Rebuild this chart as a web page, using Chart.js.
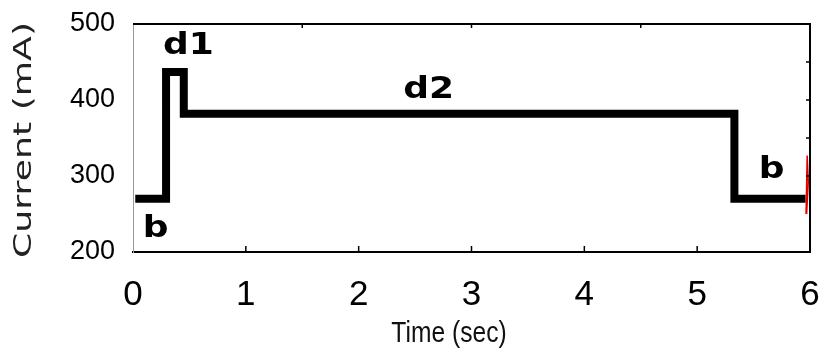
<!DOCTYPE html>
<html>
<head>
<meta charset="utf-8">
<script src="https://cdn.jsdelivr.net/npm/chart.js@4/dist/chart.umd.min.js"></script>
<style>
  html, body { margin: 0; padding: 0; background: #fff; }
  #wrap { width: 819px; height: 352px; }
</style>
</head>
<body>
<div id="wrap"><canvas id="chart" width="819" height="352"></canvas></div>
<script>
// current trace (step shape)
const timeSec = [0.02, 0.293, 0.293, 0.45, 0.45, 5.33, 5.33, 5.96];
const currentMA = [270, 270, 437, 437, 382, 382, 270, 270];

// small red mark at the right edge
const markTime = [5.965, 5.975, 5.985, 5.97];
const markCurrent = [250, 327, 292, 250];

// axis ticks
const xTicks = [0, 1, 2, 3, 4, 5, 6];
const yTicks = [200, 300, 400, 500];
const topTicks = [1.5, 3, 4.5];
const rightTicks = [300, 350, 400, 450];

// phase labels
const noteText = ['d1', 'd2', 'b', 'b'];
const noteTime = [0.49, 2.62, 0.2, 5.66];
const noteCurrent = [461, 403, 220, 298];

const sans = '"Liberation Sans", Arial, sans-serif';

const toPoints = (xs, ys) => xs.map((t, i) => ({ x: t, y: ys[i] }));

// frame, inward ticks, titles and phase labels
const decorations = {
    id: 'decorations',
    afterDraw(chart) {
        const { ctx, chartArea: a, scales: { x, y } } = chart;
        ctx.save();

        // top and right border
        ctx.strokeStyle = '#000';
        ctx.lineWidth = 2;
        ctx.beginPath();
        ctx.moveTo(a.left, a.top);
        ctx.lineTo(a.right, a.top);
        ctx.lineTo(a.right, a.bottom + 1);
        ctx.stroke();

        ctx.lineWidth = 1.5;
        ctx.beginPath();
        xTicks.slice(1, -1).forEach(t => {
            const px = x.getPixelForValue(t);
            ctx.moveTo(px, a.bottom);
            ctx.lineTo(px, a.bottom - 6);
        });
        topTicks.forEach(t => {
            const px = x.getPixelForValue(t);
            ctx.moveTo(px, a.top);
            ctx.lineTo(px, a.top + 4);
        });
        rightTicks.forEach(v => {
            const py = y.getPixelForValue(v);
            ctx.moveTo(a.right, py);
            ctx.lineTo(a.right - 4, py);
        });
        ctx.stroke();

        // phase labels
        ctx.fillStyle = '#000';
        ctx.font = 'bold 30px "DejaVu Sans"';
        ctx.textAlign = 'center';
        ctx.textBaseline = 'alphabetic';
        noteText.forEach((txt, i) => {
            ctx.save();
            ctx.translate(x.getPixelForValue(noteTime[i]), y.getPixelForValue(noteCurrent[i]));
            ctx.scale(1.2, 1);
            ctx.fillText(txt, 0, 0);
            ctx.restore();
        });

        // x title (narrow face)
        ctx.save();
        ctx.translate(449, 342);
        ctx.scale(0.82, 1);
        ctx.font = '30px ' + sans;
        ctx.fillStyle = '#111';
        ctx.fillText('Time (sec)', 0, 0);
        ctx.restore();

        // y title
        ctx.save();
        ctx.translate(24, 140);
        ctx.rotate(-Math.PI / 2);
        ctx.scale(1.45, 1);
        ctx.font = '25px "DejaVu Sans"';
        ctx.fillStyle = '#222';
        ctx.textBaseline = 'middle';
        ctx.fillText('Current (mA)', 0, 0);
        ctx.restore();

        ctx.restore();
    }
};

new Chart(document.getElementById('chart'), {
    type: 'line',
    data: {
        datasets: [{
            data: toPoints(timeSec, currentMA),
            borderColor: '#000',
            borderWidth: 8,
            borderJoinStyle: 'miter',
            borderCapStyle: 'butt',
            pointRadius: 0,
            tension: 0,
            fill: false
        }, {
            data: toPoints(markTime, markCurrent),
            borderColor: '#e00000',
            borderWidth: 1.5,
            pointRadius: 0,
            tension: 0,
            fill: false
        }]
    },
    options: {
        responsive: false,
        animation: false,
        layout: { padding: { top: 24, right: 9, left: 0, bottom: 0 } },
        plugins: {
            legend: { display: false },
            tooltip: { enabled: false }
        },
        scales: {
            x: {
                type: 'linear',
                min: 0,
                max: 6,
                afterFit: s => { s.height = 100; s.paddingLeft = 0; s.paddingRight = 0; },
                afterBuildTicks: s => { s.ticks = xTicks.map(v => ({ value: v })); },
                grid: { display: false, drawTicks: false },
                border: { display: true, color: '#000', width: 2 },
                ticks: {
                    color: '#000',
                    padding: 22,
                    maxRotation: 0,
                    font: { family: sans, size: 35 }
                }
            },
            y: {
                min: 200,
                max: 500,
                afterFit: s => { s.width = 133; s.paddingTop = 0; s.paddingBottom = 0; },
                afterBuildTicks: s => { s.ticks = yTicks.map(v => ({ value: v })); },
                grid: { display: false, drawTicks: false },
                border: { display: true, color: '#999', width: 1 },
                ticks: {
                    color: '#000',
                    padding: 18,
                    font: { family: sans, size: 27 }
                }
            }
        }
    },
    plugins: [decorations]
});
</script>
</body>
</html>
